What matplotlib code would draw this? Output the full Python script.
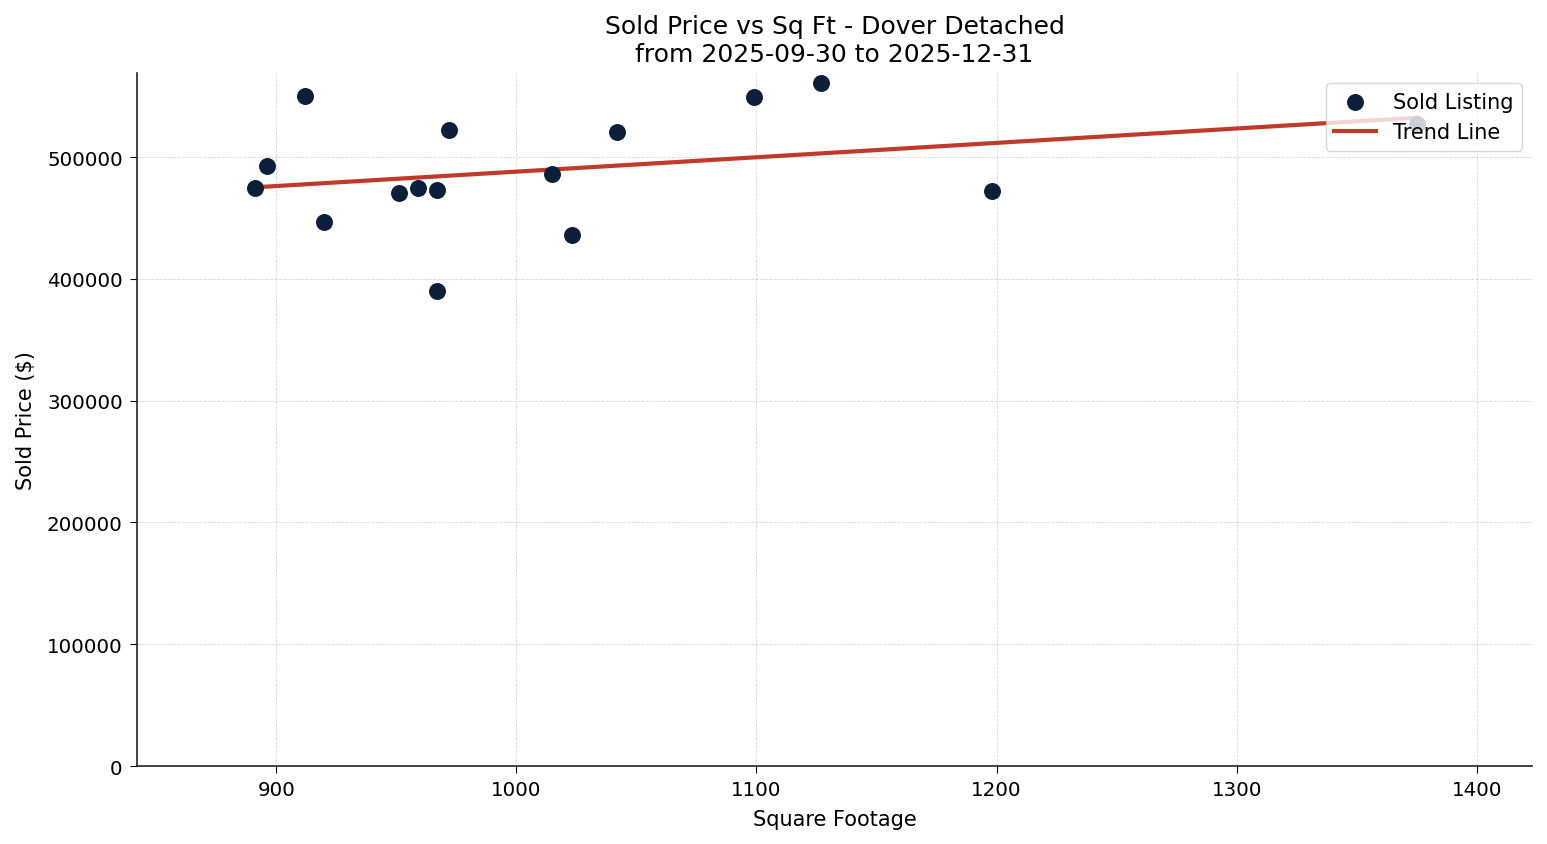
import numpy as np
import matplotlib
matplotlib.use("Agg")
import matplotlib.pyplot as plt

# sold listings: square footage and sold price
sqft = [891, 896, 912, 920, 951, 959, 967, 967, 972, 1015, 1023, 1042, 1099, 1127, 1198, 1375]
price = [475000, 493000, 550000, 446500, 470500, 474500, 473000, 390000, 522000,
         486000, 436000, 520500, 549000, 560500, 472000, 527000]

title = "Sold Price vs Sq Ft - Dover Detached\nfrom 2025-09-30 to 2025-12-31"

fig, ax = plt.subplots(figsize=(15.47, 8.45), dpi=100)

ax.scatter(sqft, price, s=125, color="#0b1f3a", label="Sold Listing", zorder=3)

# linear trend fit
m, b = np.polyfit(sqft, price, 1)
xs = np.array([min(sqft), max(sqft)])
ax.plot(xs, m * xs + b, color="#c0392b", linewidth=3, label="Trend Line", zorder=2)

ax.set_xlim(842, 1423)
ax.set_ylim(0, 569000)
ax.set_title(title, fontsize=18, pad=9)
ax.set_xlabel("Square Footage", fontsize=15, labelpad=7)
ax.set_ylabel("Sold Price ($)", fontsize=15, labelpad=8)
ax.tick_params(labelsize=14.3, length=5, pad=5.3)
ax.grid(True, linestyle="--", linewidth=0.6, alpha=0.5)
for side in ["left", "bottom"]:
    ax.spines[side].set_color("#222222")
    ax.spines[side].set_linewidth(1.2)
ax.spines["top"].set_visible(False)
ax.spines["right"].set_visible(False)
ax.legend(loc="upper right", fontsize=15)

fig.subplots_adjust(left=0.0886, right=0.9903, top=0.9124, bottom=0.0923)
fig.savefig("out.png")
